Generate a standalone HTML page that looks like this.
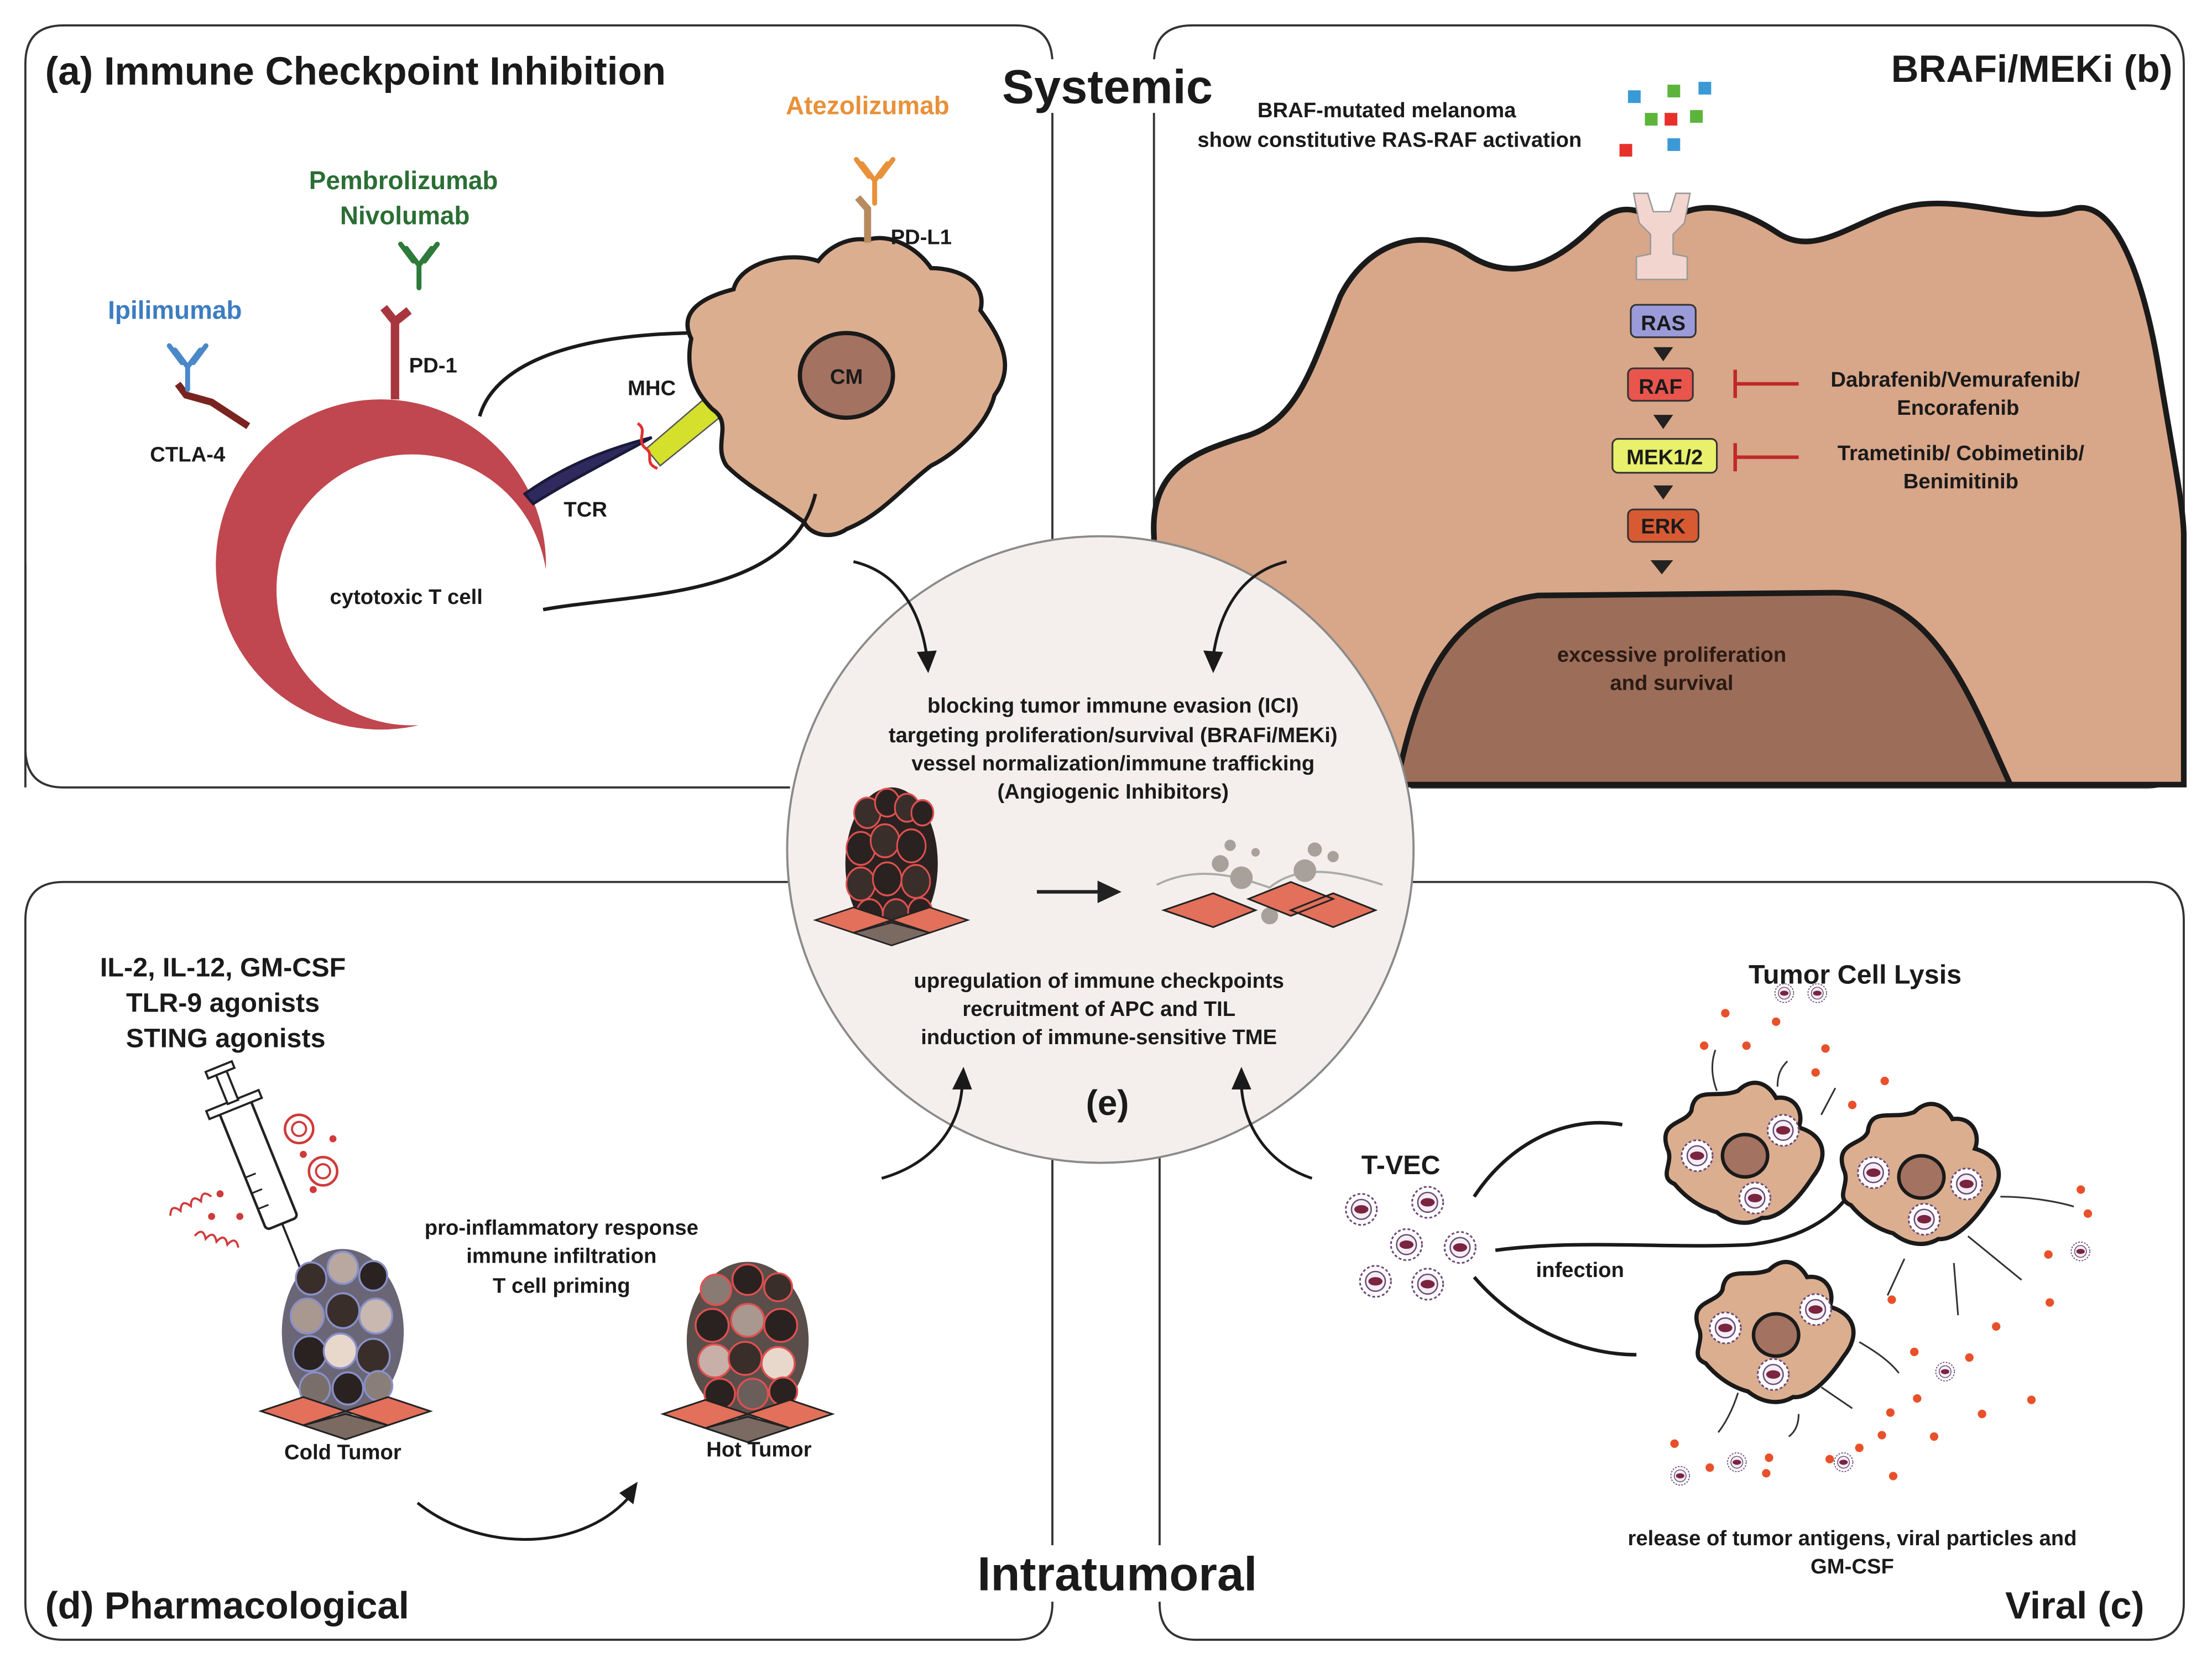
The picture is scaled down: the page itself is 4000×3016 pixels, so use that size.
<!DOCTYPE html>
<html><head><meta charset="utf-8"><style>
html,body{margin:0;padding:0;background:#fff;}
svg{display:block;}
text{font-family:"Liberation Sans",sans-serif;font-weight:bold;}
text:not([fill]){fill:#1a1a1a;}
</style></head><body>
<svg width="4000" height="3016" viewBox="0 0 1568 1182" preserveAspectRatio="none" xmlns="http://www.w3.org/2000/svg">
<defs>
<path id="blob" d="M-55,-5 C-62,-25 -42,-22 -38,-32 C-36,-50 -20,-40 -5,-46 C5,-56 16,-52 22,-41 C36,-43 42,-30 38,-20 C56,-15 60,0 48,15 C35,35 22,45 12,44 C2,50 -10,48 -20,40 C-35,36 -45,26 -50,20 C-62,15 -50,5 -55,-5 Z"/>
<g id="virus"><circle r="11" fill="#fff" stroke="#6b4a7a" stroke-width="1.2" stroke-dasharray="2 1.5"/><circle r="7" fill="#f4eef4" stroke="#6b4a7a" stroke-width="1"/><ellipse rx="5" ry="3" fill="#7a2440"/></g>
<g id="ab"><path d="M0,16 L0,0 M0,0 L-9,-12 M0,0 L9,-12 M-4,-3 L-13,-15 M4,-3 L13,-15" stroke-width="3.5" fill="none" stroke-linecap="round"/></g>
<g id="tumorDark">
<ellipse cx="0" cy="0" rx="42" ry="60" fill="#2a2220"/>
<circle cx="-22" cy="-40" r="12" fill="#3a2e2a" stroke="#e05050" stroke-width="1.5"/><circle cx="-4" cy="-48" r="11" fill="#2a2220" stroke="#e05050" stroke-width="1.5"/><circle cx="14" cy="-44" r="11" fill="#3a2e2a" stroke="#e05050" stroke-width="1.5"/><circle cx="28" cy="-40" r="10" fill="#2a2220" stroke="#e05050" stroke-width="1.5"/>
<circle cx="-28" cy="-12" r="13" fill="#2a2220" stroke="#e05050" stroke-width="1.5"/><circle cx="-6" cy="-18" r="13" fill="#3a2e2a" stroke="#e05050" stroke-width="1.5"/><circle cx="18" cy="-14" r="13" fill="#2a2220" stroke="#e05050" stroke-width="1.5"/>
<circle cx="-28" cy="16" r="13" fill="#3a2e2a" stroke="#e05050" stroke-width="1.5"/><circle cx="-4" cy="12" r="13" fill="#2a2220" stroke="#e05050" stroke-width="1.5"/><circle cx="22" cy="14" r="13" fill="#3a2e2a" stroke="#e05050" stroke-width="1.5"/>
<circle cx="-20" cy="40" r="12" fill="#2a2220" stroke="#e05050" stroke-width="1.5"/><circle cx="4" cy="40" r="12" fill="#3a2e2a" stroke="#e05050" stroke-width="1.5"/><circle cx="26" cy="38" r="11" fill="#2a2220" stroke="#e05050" stroke-width="1.5"/>
</g>
<g id="base">
<path d="M-60,0 L-30,-10 L0,0 L-30,10 Z" fill="#e2705a" stroke="#222" stroke-width="1.2"/>
<path d="M0,0 L30,-10 L60,0 L30,10 Z" fill="#e2705a" stroke="#222" stroke-width="1.2"/>
<path d="M-30,10 L0,2 L30,10 L0,20 Z" fill="#7b6a62" stroke="#222" stroke-width="1.2"/>
</g>
</defs>

<rect width="1568" height="1182" fill="#fff"/>

<!-- Panels -->
<path d="M18,558 L18,45 Q18,18 45,18 L720,18 Q746,18 746,45 L746,400" fill="none" stroke="#333" stroke-width="1.5"/>
<path d="M18,400 L18,530 Q18,558 45,558 L560,558" fill="none" stroke="#333" stroke-width="1.5"/>
<path d="M818,400 L818,45 Q818,18 845,18 L1522,18 Q1548,18 1548,45 L1548,530 Q1548,558 1522,558 L1000,558" fill="none" stroke="#333" stroke-width="1.5"/>
<path d="M560,625 L45,625 Q18,625 18,652 L18,1136 Q18,1162 45,1162 L720,1162 Q746,1162 746,1136 L746,820" fill="none" stroke="#333" stroke-width="1.5"/>
<path d="M1000,625 L1522,625 Q1548,625 1548,652 L1548,1136 Q1548,1162 1522,1162 L848,1162 Q822,1162 822,1136 L822,820" fill="none" stroke="#333" stroke-width="1.5"/>

<!-- Panel b tumor -->
<path d="M818,380 C815,330 850,320 880,310 C920,300 930,260 950,210 C970,170 1010,160 1040,180 C1070,200 1100,190 1130,160 C1150,140 1165,150 1180,160 C1200,140 1230,145 1260,165 C1290,185 1320,150 1360,145 C1400,140 1440,160 1470,148 C1500,140 1520,200 1530,260 C1540,320 1548,360 1548,380 L1548,556 L818,556 Z" fill="#d8a688" stroke="#1a1a1a" stroke-width="4"/>
<path d="M990,556 C1005,480 1030,430 1090,422 L1300,420 C1370,420 1395,490 1425,556 Z" fill="#9c6d58" stroke="#1a1a1a" stroke-width="4"/>
<text x="1185" y="469" text-anchor="middle" font-size="15" fill="#2a1a14">excessive proliferation</text>
<text x="1185" y="489" text-anchor="middle" font-size="15" fill="#2a1a14">and survival</text>
<path d="M1158,137 L1168,137 L1172,150 L1184,150 L1188,137 L1198,137 L1194,158 L1186,166 L1186,180 L1196,182 L1196,198 L1160,198 L1160,182 L1170,180 L1170,166 L1162,158 Z" fill="#f3d5d0" stroke="#999" stroke-width="1"/>
<rect x="1156" y="216" width="46" height="23" rx="4" fill="#9a9bd8" stroke="#333" stroke-width="1.2"/><text x="1179" y="234" text-anchor="middle" font-size="15">RAS</text>
<path d="M1172,246 L1186,246 L1179,256 Z" fill="#222"/>
<rect x="1154" y="261" width="46" height="23" rx="4" fill="#e9554d" stroke="#333" stroke-width="1.2"/><text x="1177" y="279" text-anchor="middle" font-size="15">RAF</text>
<path d="M1172,294 L1186,294 L1179,304 Z" fill="#222"/>
<rect x="1143" y="311" width="74" height="24" rx="4" fill="#e8f06c" stroke="#333" stroke-width="1.2"/><text x="1180" y="329" text-anchor="middle" font-size="15">MEK1/2</text>
<path d="M1172,344 L1186,344 L1179,354 Z" fill="#222"/>
<rect x="1154" y="361" width="50" height="23" rx="4" fill="#d85a33" stroke="#333" stroke-width="1.2"/><text x="1179" y="378" text-anchor="middle" font-size="15">ERK</text>
<path d="M1170,397 L1186,397 L1178,407 Z" fill="#222"/>
<path d="M1230,262 L1230,282 M1230,272 L1275,272 M1230,314 L1230,334 M1230,324 L1275,324" stroke="#c0282a" stroke-width="2.5"/>
<text x="1386" y="274" text-anchor="middle" font-size="15">Dabrafenib/Vemurafenib/</text>
<text x="1388" y="294" text-anchor="middle" font-size="15">Encorafenib</text>
<text x="1390" y="326" text-anchor="middle" font-size="15">Trametinib/ Cobimetinib/</text>
<text x="1390" y="346" text-anchor="middle" font-size="15">Benimitinib</text>
<text x="983" y="83" text-anchor="middle" font-size="15">BRAF-mutated melanoma</text>
<text x="985" y="104" text-anchor="middle" font-size="15">show constitutive RAS-RAF activation</text>
<rect x="1154" y="64" width="9" height="9" fill="#3a9ad6"/><rect x="1182" y="60" width="9" height="9" fill="#5cb53a"/><rect x="1204" y="58" width="9" height="9" fill="#3a9ad6"/>
<rect x="1166" y="80" width="9" height="9" fill="#5cb53a"/><rect x="1180" y="80" width="9" height="9" fill="#e8302a"/><rect x="1198" y="78" width="9" height="9" fill="#5cb53a"/>
<rect x="1148" y="102" width="9" height="9" fill="#e8302a"/><rect x="1182" y="98" width="9" height="9" fill="#3a9ad6"/>
<text x="1540" y="58" text-anchor="end" font-size="27">BRAFi/MEKi (b)</text>

<!-- Panel a -->
<text x="32" y="60" font-size="28" textLength="440" lengthAdjust="spacingAndGlyphs">(a) Immune Checkpoint Inhibition</text>
<rect x="706" y="42" width="158" height="38" fill="#fff"/>
<text x="785" y="73" text-anchor="middle" font-size="34">Systemic</text>
<circle cx="270" cy="400" r="117" fill="#c0474f"/>
<circle cx="292" cy="418" r="96" fill="#fff"/>
<text x="288" y="428" text-anchor="middle" font-size="15">cytotoxic T cell</text>
<path d="M280,283 L280,228 L272,218 M280,228 L290,220" stroke="#a8363e" stroke-width="6" fill="none"/>
<use href="#ab" x="297" y="188" stroke="#2e7a3a"/>
<text x="307" y="264" text-anchor="middle" font-size="15">PD-1</text>
<path d="M176,302 L150,285 L132,280 L126,272" stroke="#7a2420" stroke-width="5" fill="none"/>
<use href="#ab" x="133" y="260" stroke="#4a88c8"/>
<text x="133" y="327" text-anchor="middle" font-size="15">CTLA-4</text>
<text x="124" y="226" text-anchor="middle" font-size="18" fill="#3d7dc0">Ipilimumab</text>
<text x="286" y="134" text-anchor="middle" font-size="18" fill="#2a6e34">Pembrolizumab</text>
<text x="287" y="159" text-anchor="middle" font-size="18" fill="#2a6e34">Nivolumab</text>
<text x="615" y="81" text-anchor="middle" font-size="18" fill="#e8913a">Atezolizumab</text>
<path d="M372,350 C400,330 430,318 462,310 C435,325 405,340 378,357 Z" fill="#2e2a5e" stroke="#1a1a3a" stroke-width="2"/>
<text x="415" y="366" text-anchor="middle" font-size="15">TCR</text>
<path d="M458,318 L500,282 L510,296 L468,330 Z" fill="#d4e02c" stroke="#555" stroke-width="1"/>
<path d="M452,300 C460,305 450,312 458,318 C464,322 456,328 466,332" stroke="#e03030" stroke-width="2" fill="none"/>
<text x="462" y="280" text-anchor="middle" font-size="15">MHC</text>
<path d="M490,240 C480,220 500,210 520,205 C525,185 560,178 580,185 C590,172 605,168 615,170 C630,165 650,175 660,190 C680,190 700,200 695,220 C710,240 720,260 705,280 C700,300 680,320 660,330 C640,345 625,365 600,375 C590,382 575,380 570,370 C550,355 530,345 515,330 C505,315 520,300 505,290 C495,280 485,265 490,240 Z" fill="#dcae90" stroke="#1a1a1a" stroke-width="3"/>
<ellipse cx="600" cy="266" rx="33" ry="30" fill="#a47260" stroke="#1a1a1a" stroke-width="3"/>
<text x="600" y="272" text-anchor="middle" font-size="15">CM</text>
<path d="M615,172 L615,148 L608,140" stroke="#b88a60" stroke-width="5" fill="none"/>
<use href="#ab" x="620" y="128" stroke="#e8913a"/>
<text x="653" y="173" text-anchor="middle" font-size="15">PD-L1</text>
<path d="M340,295 C350,260 400,238 487,236" stroke="#1a1a1a" stroke-width="2.5" fill="none"/>
<path d="M385,432 C450,420 560,425 578,350" stroke="#1a1a1a" stroke-width="2.5" fill="none"/>

<!-- center circle -->
<circle cx="780" cy="602" r="222" fill="#f4efed" stroke="#8a8a8a" stroke-width="1.5"/>
<g font-size="15" text-anchor="middle">
<text x="789" y="505">blocking tumor immune evasion (ICI)</text>
<text x="789" y="526">targeting proliferation/survival (BRAFi/MEKi)</text>
<text x="789" y="546">vessel normalization/immune trafficking</text>
<text x="789" y="566">(Angiogenic Inhibitors)</text>
<text x="779" y="700">upregulation of immune checkpoints</text>
<text x="779" y="720">recruitment of APC and TIL</text>
<text x="779" y="740">induction of immune-sensitive TME</text>
</g>
<text x="785" y="790" text-anchor="middle" font-size="25">(e)</text>
<g transform="translate(632,612) scale(0.78,0.9)"><use href="#tumorDark"/></g>
<g transform="translate(632,652) scale(0.9)"><use href="#base"/></g>
<path d="M735,632 L780,632" stroke="#222" stroke-width="2.5"/><path d="M778,624 L795,632 L778,640 Z" fill="#222"/>
<g transform="translate(900,637)">
<path d="M-80,-10 C-50,-25 -20,-15 0,-8 C20,-25 50,-20 80,-10" stroke="#aaa" stroke-width="1.5" fill="none"/>
<circle cx="-35" cy="-25" r="6" fill="#a8a09a"/><circle cx="-20" cy="-15" r="8" fill="#a8a09a"/><circle cx="-28" cy="-38" r="4" fill="#a8a09a"/><circle cx="25" cy="-20" r="8" fill="#a8a09a"/><circle cx="32" cy="-35" r="5" fill="#a8a09a"/><circle cx="45" cy="-30" r="4" fill="#a8a09a"/><circle cx="-10" cy="-33" r="3" fill="#a8a09a"/><circle cx="0" cy="12" r="6" fill="#a8a09a"/>
<path d="M-75,8 L-40,-4 L-10,8 L-40,20 Z M-15,0 L15,-12 L45,0 L15,12 Z M15,8 L45,-4 L75,8 L45,20 Z" fill="#e2705a" stroke="#222" stroke-width="1.2"/>
</g>

<path d="M605,398 C635,405 652,430 657,465" stroke="#1a1a1a" stroke-width="2" fill="none"/><path d="M650,462 L658,477 L664,461 Z" fill="#1a1a1a"/>
<path d="M912,398 C882,405 865,430 860,465" stroke="#1a1a1a" stroke-width="2" fill="none"/><path d="M853,461 L860,477 L867,462 Z" fill="#1a1a1a"/>
<path d="M625,835 C660,825 680,800 682,770" stroke="#1a1a1a" stroke-width="2" fill="none"/><path d="M675,772 L683,756 L689,772 Z" fill="#1a1a1a"/>
<path d="M930,835 C900,825 882,800 880,770" stroke="#1a1a1a" stroke-width="2" fill="none"/><path d="M873,772 L880,756 L887,772 Z" fill="#1a1a1a"/>

<!-- Panel d -->
<g font-size="19" text-anchor="middle">
<text x="158" y="692">IL-2, IL-12, GM-CSF</text>
<text x="158" y="717">TLR-9 agonists</text>
<text x="160" y="742">STING agonists</text>
</g>
<g transform="translate(185,830) rotate(-22)">
<rect x="-12" y="-50" width="24" height="90" rx="3" fill="#fff" stroke="#222" stroke-width="1.8"/>
<rect x="-20" y="-54" width="40" height="6" fill="#fff" stroke="#222" stroke-width="1.5"/>
<rect x="-4" y="-75" width="8" height="22" fill="#fff" stroke="#222" stroke-width="1.5"/>
<rect x="-10" y="-80" width="20" height="5" fill="#fff" stroke="#222" stroke-width="1.5"/>
<path d="M-12,0 L-4,0 M-12,12 L-4,12 M-12,24 L-4,24" stroke="#222" stroke-width="1.2"/>
<path d="M0,40 L0,100" stroke="#222" stroke-width="1.5"/>
</g>
<circle cx="212" cy="800" r="10" fill="none" stroke="#d03a3a" stroke-width="1.8"/><circle cx="212" cy="800" r="5" fill="none" stroke="#d03a3a" stroke-width="1.5"/>
<circle cx="229" cy="830" r="10" fill="none" stroke="#d03a3a" stroke-width="1.8"/><circle cx="229" cy="830" r="5" fill="none" stroke="#d03a3a" stroke-width="1.5"/>
<circle cx="236" cy="807" r="2.5" fill="#d03a3a"/><circle cx="215" cy="818" r="2.5" fill="#d03a3a"/><circle cx="222" cy="843" r="2.5" fill="#d03a3a"/><circle cx="156" cy="846" r="2.5" fill="#d03a3a"/><circle cx="150" cy="862" r="2.5" fill="#d03a3a"/><circle cx="170" cy="862" r="2.5" fill="#d03a3a"/>
<path d="M118,855 q4,-8 8,0 q4,-8 8,0 q4,-8 8,0 q4,-8 8,0" stroke="#d03a3a" stroke-width="1.5" fill="none" transform="rotate(-25 134 852)"/>
<path d="M138,880 q4,-8 8,0 q4,-8 8,0 q4,-8 8,0 q4,-8 8,0" stroke="#d03a3a" stroke-width="1.5" fill="none" transform="rotate(15 154 878)"/>
<g transform="translate(243,944) scale(0.9,0.95)">
<ellipse rx="48" ry="62" fill="#6a6676"/>
<circle cx="-25" cy="-40" r="12" fill="#3a2e2a" stroke="#8a90c8" stroke-width="1.5"/><circle cx="0" cy="-48" r="12" fill="#b8a8a0" stroke="#8a90c8" stroke-width="1.5"/><circle cx="24" cy="-42" r="11" fill="#2a2220" stroke="#8a90c8" stroke-width="1.5"/>
<circle cx="-28" cy="-12" r="13" fill="#a89890" stroke="#8a90c8" stroke-width="1.5"/><circle cx="0" cy="-16" r="13" fill="#3a2e2a" stroke="#8a90c8" stroke-width="1.5"/><circle cx="26" cy="-12" r="13" fill="#c8b8b0" stroke="#8a90c8" stroke-width="1.5"/>
<circle cx="-26" cy="16" r="13" fill="#2a2220" stroke="#8a90c8" stroke-width="1.5"/><circle cx="-2" cy="14" r="13" fill="#e8d8cc" stroke="#8a90c8" stroke-width="1.5"/><circle cx="24" cy="18" r="13" fill="#3a2e2a" stroke="#8a90c8" stroke-width="1.5"/>
<circle cx="-22" cy="42" r="12" fill="#7a6e6a" stroke="#8a90c8" stroke-width="1.5"/><circle cx="4" cy="42" r="12" fill="#2a2220" stroke="#8a90c8" stroke-width="1.5"/><circle cx="28" cy="40" r="11" fill="#8a7e78" stroke="#8a90c8" stroke-width="1.5"/>
</g>
<g transform="translate(245,1000)"><use href="#base"/></g>
<g transform="translate(530,950) scale(0.9,0.9)">
<ellipse rx="48" ry="62" fill="#5a4e4a"/>
<circle cx="-25" cy="-40" r="12" fill="#8a7a74" stroke="#e05050" stroke-width="1.5"/><circle cx="0" cy="-48" r="12" fill="#2a2220" stroke="#e05050" stroke-width="1.5"/><circle cx="24" cy="-42" r="11" fill="#3a2e2a" stroke="#e05050" stroke-width="1.5"/>
<circle cx="-28" cy="-12" r="13" fill="#2a2220" stroke="#e05050" stroke-width="1.5"/><circle cx="0" cy="-16" r="13" fill="#a89890" stroke="#e05050" stroke-width="1.5"/><circle cx="26" cy="-12" r="13" fill="#2a2220" stroke="#e05050" stroke-width="1.5"/>
<circle cx="-26" cy="16" r="13" fill="#c8b0a8" stroke="#e05050" stroke-width="1.5"/><circle cx="-2" cy="14" r="13" fill="#3a2e2a" stroke="#e05050" stroke-width="1.5"/><circle cx="24" cy="18" r="13" fill="#e8d8cc" stroke="#e05050" stroke-width="1.5"/>
<circle cx="-22" cy="42" r="12" fill="#2a2220" stroke="#e05050" stroke-width="1.5"/><circle cx="4" cy="42" r="12" fill="#6a5e5a" stroke="#e05050" stroke-width="1.5"/><circle cx="28" cy="40" r="11" fill="#2a2220" stroke="#e05050" stroke-width="1.5"/>
</g>
<g transform="translate(530,1002)"><use href="#base"/></g>
<g font-size="15" text-anchor="middle">
<text x="398" y="875">pro-inflammatory response</text>
<text x="398" y="895">immune infiltration</text>
<text x="398" y="916">T cell priming</text>
<text x="243" y="1034">Cold Tumor</text>
<text x="538" y="1032">Hot Tumor</text>
</g>
<path d="M296,1065 C340,1100 410,1100 445,1062" stroke="#1a1a1a" stroke-width="2" fill="none"/><path d="M439,1058 L452,1050 L449,1066 Z" fill="#1a1a1a"/>
<text x="32" y="1147" font-size="27">(d) Pharmacological</text>
<rect x="690" y="1095" width="205" height="40" fill="#fff"/>
<text x="792" y="1127" text-anchor="middle" font-size="34">Intratumoral</text>

<!-- Panel c -->
<text x="1315" y="697" text-anchor="middle" font-size="19">Tumor Cell Lysis</text>
<text x="993" y="832" text-anchor="middle" font-size="19">T-VEC</text>
<text x="1120" y="905" text-anchor="middle" font-size="15">infection</text>
<text x="1313" y="1095" text-anchor="middle" font-size="15">release of tumor antigens, viral particles and</text>
<text x="1313" y="1115" text-anchor="middle" font-size="15">GM-CSF</text>
<text x="1520" y="1147" text-anchor="end" font-size="27">Viral (c)</text>
<path d="M1045,848 C1070,810 1110,790 1150,797" stroke="#1a1a1a" stroke-width="2.5" fill="none"/>
<path d="M1060,886 C1120,878 1180,885 1240,882 C1280,878 1300,860 1308,850" stroke="#1a1a1a" stroke-width="2.5" fill="none"/>
<path d="M1045,905 C1075,940 1120,960 1160,960" stroke="#1a1a1a" stroke-width="2.5" fill="none"/>
<use href="#virus" x="965" y="857"/><use href="#virus" x="1012" y="852"/><use href="#virus" x="997" y="882"/><use href="#virus" x="1035" y="884"/><use href="#virus" x="975" y="908"/><use href="#virus" x="1012" y="910"/>
<g transform="translate(1237,819)"><use href="#blob" fill="#dcae90" stroke="#1a1a1a" stroke-width="3"/><ellipse cx="0" cy="0" rx="16" ry="15" fill="#a47260" stroke="#1a1a1a" stroke-width="2.5"/><use href="#virus" x="-34" y="0"/><use href="#virus" x="27" y="-18"/><use href="#virus" x="7" y="30"/></g>
<g transform="translate(1362,834)"><use href="#blob" fill="#dcae90" stroke="#1a1a1a" stroke-width="3"/><ellipse cx="0" cy="0" rx="16" ry="15" fill="#a47260" stroke="#1a1a1a" stroke-width="2.5"/><use href="#virus" x="-34" y="-3"/><use href="#virus" x="32" y="5"/><use href="#virus" x="2" y="30"/></g>
<g transform="translate(1259,946)"><use href="#blob" fill="#dcae90" stroke="#1a1a1a" stroke-width="3"/><ellipse cx="0" cy="0" rx="16" ry="15" fill="#a47260" stroke="#1a1a1a" stroke-width="2.5"/><use href="#virus" x="-36" y="-5"/><use href="#virus" x="28" y="-18"/><use href="#virus" x="-2" y="28"/></g>
<g stroke="#333" stroke-width="1.2" fill="none">
<path d="M1216,744 C1212,755 1214,765 1217,773"/><path d="M1267,752 C1262,757 1260,762 1260,770"/><path d="M1301,771 L1291,790"/>
<path d="M1418,848 C1440,848 1460,852 1470,855"/><path d="M1395,876 L1433,907"/><path d="M1385,895 L1388,932"/><path d="M1350,892 L1338,918"/>
<path d="M1318,951 C1330,958 1340,965 1346,973"/><path d="M1291,983 L1313,998"/><path d="M1232,987 C1228,1000 1222,1010 1218,1015"/><path d="M1275,1002 C1275,1010 1272,1015 1268,1018"/>
</g>
<g fill="#e8502a">
<circle cx="1223" cy="718" r="3"/><circle cx="1259" cy="724" r="3"/><circle cx="1208" cy="741" r="3"/><circle cx="1238" cy="741" r="3"/><circle cx="1294" cy="743" r="3"/><circle cx="1287" cy="760" r="3"/><circle cx="1336" cy="766" r="3"/><circle cx="1313" cy="783" r="3"/>
<circle cx="1475" cy="843" r="3"/><circle cx="1480" cy="860" r="3"/><circle cx="1452" cy="889" r="3"/><circle cx="1453" cy="923" r="3"/><circle cx="1415" cy="940" r="3"/><circle cx="1341" cy="921" r="3"/>
<circle cx="1357" cy="958" r="3"/><circle cx="1396" cy="962" r="3"/><circle cx="1359" cy="991" r="3"/><circle cx="1440" cy="992" r="3"/><circle cx="1340" cy="1001" r="3"/><circle cx="1405" cy="1002" r="3"/><circle cx="1334" cy="1017" r="3"/><circle cx="1371" cy="1018" r="3"/>
<circle cx="1187" cy="1023" r="3"/><circle cx="1212" cy="1040" r="3"/><circle cx="1228" cy="1035" r="3"/><circle cx="1254" cy="1033" r="3"/><circle cx="1252" cy="1044" r="3"/><circle cx="1297" cy="1034" r="3"/><circle cx="1342" cy="1046" r="3"/><circle cx="1318" cy="1026" r="3"/>
</g>
<g transform="scale(0.6)"><use href="#virus" x="2108" y="1173"/><use href="#virus" x="2147" y="1173"/><use href="#virus" x="2458" y="1478"/><use href="#virus" x="2298" y="1620"/><use href="#virus" x="2052" y="1727"/><use href="#virus" x="1985" y="1743"/><use href="#virus" x="2178" y="1727"/></g>
</svg>
</body></html>
